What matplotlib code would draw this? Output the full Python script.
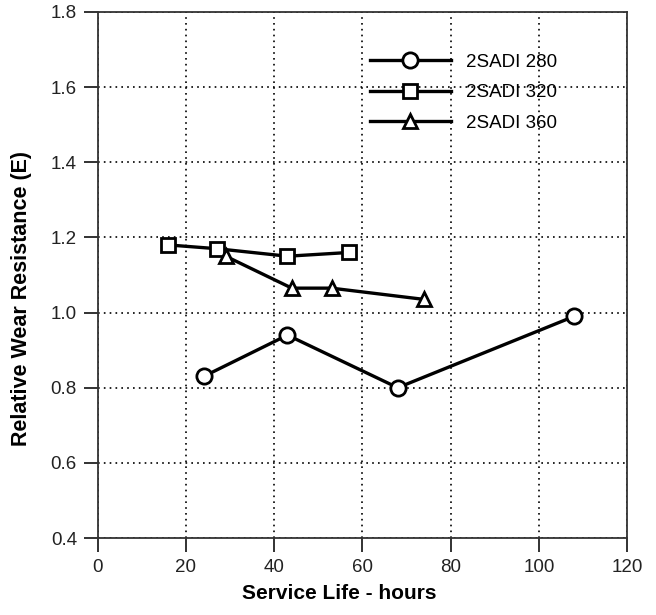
import matplotlib
matplotlib.use("Agg")
import matplotlib.pyplot as plt

plt.rcParams['font.family'] = ['Liberation Sans', 'DejaVu Sans']

# service life (hours) vs relative wear resistance
hours_280 = [24, 43, 68, 108]
wear_280 = [0.83, 0.94, 0.80, 0.99]

hours_320 = [16, 27, 43, 57]
wear_320 = [1.18, 1.17, 1.15, 1.16]

hours_360 = [29, 44, 53, 74]
wear_360 = [1.15, 1.065, 1.065, 1.035]

labels = ['2SADI 280', '2SADI 320', '2SADI 360']

fig = plt.figure(figsize=(6.56, 6.15), dpi=100)
ax = fig.add_axes([0.149, 0.1252, 0.807, 0.8553])

style = dict(color='black', lw=2.4, markeredgewidth=2.0,
             markerfacecolor='white', markeredgecolor='black')
ax.plot(hours_280, wear_280, marker='o', markersize=11, label=labels[0], **style)
ax.plot(hours_320, wear_320, marker='s', markersize=10.5, label=labels[1], **style)
ax.plot(hours_360, wear_360, marker='^', markersize=10, label=labels[2], **style)

ax.set_xlim(0, 120)
ax.set_ylim(0.4, 1.8)
ax.set_xticks(range(0, 121, 20))
ax.set_yticks([0.4, 0.6, 0.8, 1.0, 1.2, 1.4, 1.6, 1.8])
ax.set_yticklabels(['0.4', '0.6', '0.8', '1.0', '1.2', '1.4', '1.6', '1.8'])

ax.grid(True, color='black', linestyle=(0, (1, 2.5)), linewidth=1.2)
ax.set_axisbelow(True)

for sp in ax.spines.values():
    sp.set_linewidth(1.3)
    sp.set_color('#333333')

ax.tick_params(direction='out', length=10, width=1.3, labelsize=13.5,
               colors='#222222', pad=5)

ax.set_xlabel('Service Life - hours', fontsize=15, fontweight='bold')
ax.set_ylabel('Relative Wear Resistance (E)', fontsize=15.5, fontweight='bold')
ax.xaxis.set_label_coords(0.457, -0.088)
ax.yaxis.set_label_coords(-0.125, 0.455)

leg = ax.legend(loc='upper left', bbox_to_anchor=(0.5, 0.935), frameon=False,
                fontsize=13.5, handlelength=4.3, handletextpad=0.8,
                labelspacing=0.72, borderaxespad=0)

fig.savefig('out.png', dpi=100)
